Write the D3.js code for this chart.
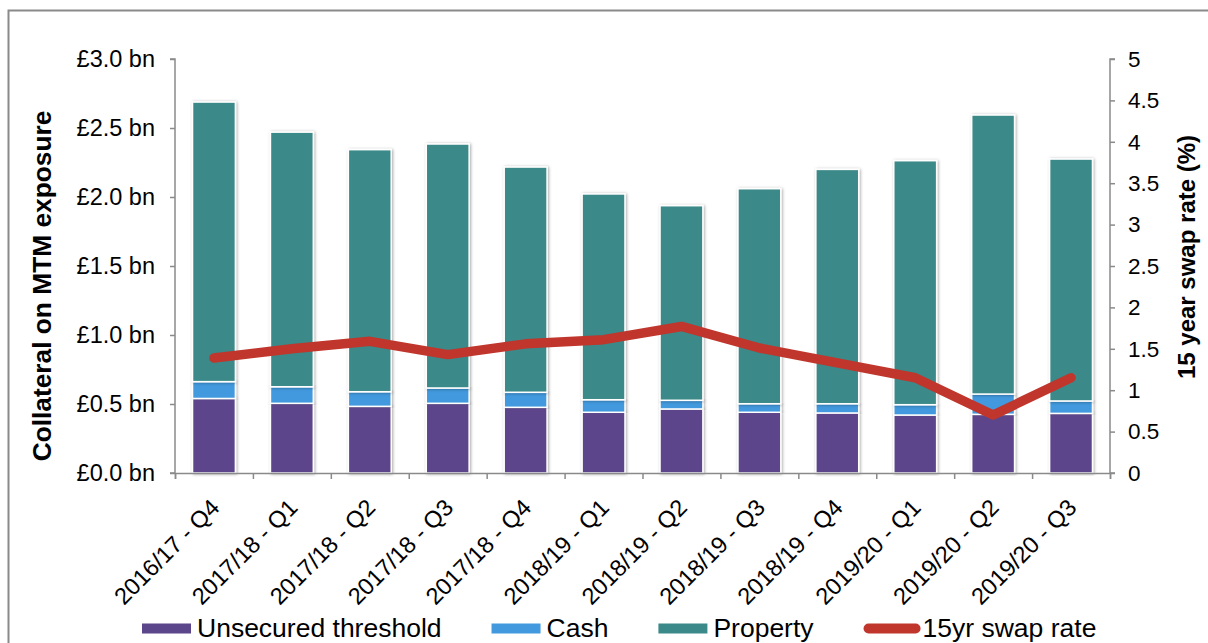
<!DOCTYPE html>
<html>
<head>
<meta charset="utf-8">
<script src="https://cdn.jsdelivr.net/npm/d3@7"></script>
<style>
  body { margin: 0; background: #fff; }
  svg { display: block; }
  text { font-family: "Liberation Sans", Arial, sans-serif; fill: #000; }
</style>
</head>
<body>
<svg id="chart" width="1208" height="643"></svg>
<script>
// Quarterly collateral on mark-to-market exposure (£ bn) and the 15-year swap rate (%)
const quarters = [
  "2016/17 - Q4", "2017/18 - Q1", "2017/18 - Q2", "2017/18 - Q3",
  "2017/18 - Q4", "2018/19 - Q1", "2018/19 - Q2", "2018/19 - Q3",
  "2018/19 - Q4", "2019/20 - Q1", "2019/20 - Q2", "2019/20 - Q3"
];
const unsecured = [0.540, 0.505, 0.483, 0.505, 0.476, 0.440, 0.464, 0.440, 0.435, 0.420, 0.425, 0.432];
const cash      = [0.122, 0.120, 0.106, 0.111, 0.109, 0.091, 0.063, 0.062, 0.067, 0.075, 0.147, 0.090];
const property  = [2.026, 1.845, 1.754, 1.768, 1.632, 1.491, 1.410, 1.558, 1.698, 1.768, 2.022, 1.753];
const swapRate  = [1.39, 1.50, 1.59, 1.43, 1.56, 1.61, 1.77, 1.51, 1.33, 1.15, 0.70, 1.15];

const leftTicks  = [0, 0.5, 1.0, 1.5, 2.0, 2.5, 3.0];
const rightTicks = [0, 0.5, 1, 1.5, 2, 2.5, 3, 3.5, 4, 4.5, 5];

const seriesNames  = ["Unsecured threshold", "Cash", "Property"];
const seriesColors = ["#5B458B", "#4299DD", "#3B8988"];
const lineName  = "15yr swap rate";
const lineColor = "#C0362C";

const svg = d3.select("#chart");
const W = 1208, H = 643;
const m = { left: 175, right: 1110, top: 59, bottom: 473 };
const axisColor = "#8a8a8a";

// outer frame (open on the right and bottom)
svg.append("path")
  .attr("d", `M8.5,${H} V10.5 H${W}`)
  .attr("fill", "none").attr("stroke", axisColor).attr("stroke-width", 2);

// soft shadow under the bars
const defs = svg.append("defs");
const f = defs.append("filter").attr("id", "barShadow")
  .attr("x", "-30%").attr("y", "-5%").attr("width", "160%").attr("height", "110%");
f.append("feDropShadow").attr("dx", 1).attr("dy", 0.5).attr("stdDeviation", 1.6)
  .attr("flood-color", "#000").attr("flood-opacity", 0.35);

const x = d3.scaleBand().domain(quarters).range([m.left, m.right])
  .paddingInner(0.45).paddingOuter(0.225);
const yL = d3.scaleLinear().domain([0, 3]).range([m.bottom, m.top]);
const yR = d3.scaleLinear().domain([0, 5]).range([m.bottom, m.top]);

// stacked bars
const rows = quarters.map((q, i) => ({ q, u: unsecured[i], c: cash[i], p: property[i] }));
const stack = d3.stack().keys(["u", "c", "p"])(rows);

svg.append("g").selectAll("g").data(stack).join("g")
  .attr("fill", (d, i) => seriesColors[i])
  .selectAll("rect").data(d => d).join("rect")
  .attr("x", d => x(d.data.q))
  .attr("y", d => yL(d[1]))
  .attr("width", x.bandwidth())
  .attr("height", d => yL(d[0]) - yL(d[1]))
  .attr("stroke", "#fff").attr("stroke-width", 1.5)
  .attr("filter", "url(#barShadow)");

// left axis
const gL = svg.append("g").attr("transform", `translate(${m.left},0)`)
  .call(d3.axisLeft(yL).tickValues(leftTicks).tickSize(5).tickPadding(15)
    .tickFormat(d => "£" + d3.format(".1f")(d) + " bn"));
// right axis
const gR = svg.append("g").attr("transform", `translate(${m.right},0)`)
  .call(d3.axisRight(yR).tickValues(rightTicks).tickSize(5).tickPadding(13)
    .tickFormat(d => String(d)));
// bottom axis: ticks at category boundaries
const xIdx = d3.scaleLinear().domain([0, quarters.length]).range([m.left, m.right]);
const gB = svg.append("g").attr("transform", `translate(0,${m.bottom})`)
  .call(d3.axisBottom(xIdx).tickValues(d3.range(quarters.length + 1)).tickSize(6).tickFormat(""));

[gL, gR, gB].forEach(g => {
  g.selectAll("path.domain").attr("stroke", axisColor).attr("stroke-width", 1.5);
  g.selectAll(".tick line").attr("stroke", axisColor).attr("stroke-width", 1.5);
  g.selectAll(".tick text").attr("fill", "#000")
    .attr("font-family", '"Liberation Sans", Arial, sans-serif');
});
gL.selectAll(".tick text").attr("font-size", 23.5);
gR.selectAll(".tick text").attr("font-size", 22.5);
gL.select("path.domain").attr("d", `M-5,${m.top}H0V${m.bottom}H-5`);
gR.select("path.domain").attr("d", `M5,${m.top}H0V${m.bottom}H5`);

// category labels, rotated
svg.append("g").selectAll("text").data(quarters).join("text")
  .attr("transform", d => `translate(${x(d) + x.bandwidth() / 2 + 7},${m.bottom + 36}) rotate(-45)`)
  .attr("text-anchor", "end").attr("font-size", 23.5)
  .text(d => d);

// swap rate line
const line = d3.line()
  .x((d, i) => x(quarters[i]) + x.bandwidth() / 2)
  .y(d => yR(d));
svg.append("path").datum(swapRate)
  .attr("d", line)
  .attr("fill", "none").attr("stroke", lineColor).attr("stroke-width", 9.5)
  .attr("stroke-linecap", "round").attr("stroke-linejoin", "round");

// axis titles
svg.append("text")
  .attr("transform", `translate(51,286) rotate(-90)`)
  .attr("text-anchor", "middle").attr("font-size", 26.3).attr("font-weight", "bold")
  .text("Collateral on MTM exposure");
svg.append("text")
  .attr("transform", `translate(1195,257) rotate(-90)`)
  .attr("text-anchor", "middle").attr("font-size", 24).attr("font-weight", "bold")
  .text("15 year swap rate (%)");

// legend
const legend = svg.append("g");
let lx = 142;
const ly = 628.5;
const items = seriesNames.map((n, i) => ({ name: n, color: seriesColors[i], type: "rect" }))
  .concat([{ name: lineName, color: lineColor, type: "line" }]);
items.forEach(it => {
  if (it.type === "rect") {
    legend.append("rect").attr("x", lx).attr("y", ly - 5).attr("width", 49).attr("height", 10)
      .attr("fill", it.color);
    lx += 55;
  } else {
    legend.append("line").attr("x1", lx + 5).attr("x2", lx + 52).attr("y1", ly).attr("y2", ly)
      .attr("stroke", it.color).attr("stroke-width", 10).attr("stroke-linecap", "round");
    lx += 59;
  }
  const t = legend.append("text").attr("x", lx).attr("y", ly + 8.3).attr("font-size", 26.5).text(it.name);
  lx += t.node().getComputedTextLength() + 50;
});
</script>
</body>
</html>
